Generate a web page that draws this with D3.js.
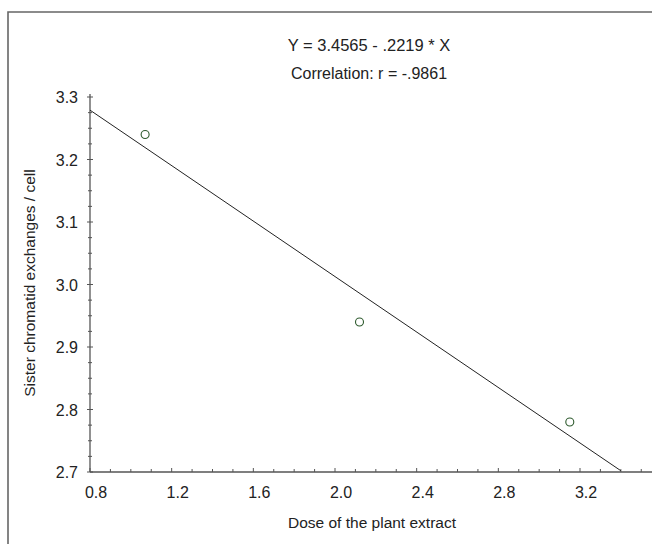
<!DOCTYPE html>
<html lang="en">
  <head>
    <meta charset="UTF-8" />
    <title>SCE vs dose</title>
    <style>
      html,
      body {
        margin: 0;
        overflow: hidden;
        background: #fff;
      }
      #chart {
        display: block;
      }
      svg text {
        font-family: "Liberation Sans", Arial, sans-serif;
        fill: #222;
      }
    </style>
  </head>
  <body>
    <svg width="652" height="544" id="chart"></svg>

    <script src="https://d3js.org/d3.v7.min.js"></script>
    <script>
      var doses = [1.07, 2.12, 3.15];
      var sce = [3.24, 2.94, 2.78];

      // fitted line Y = 3.4565 - .2219 * X
      var intercept = 3.4565;
      var slope = -0.2219;
      var fitX = [0.8, 3.4];

      var xTicks = [0.8, 1.2, 1.6, 2.0, 2.4, 2.8, 3.2];
      var yTicks = [2.7, 2.8, 2.9, 3.0, 3.1, 3.2, 3.3];

      var svg = d3.select("#chart");

      // x: 0.8 -> 90px, 3.2 -> 580px; y: 2.7 -> 472px, 3.3 -> 97px
      var x = d3.scaleLinear().domain([0.8, 3.2]).range([90, 580]);
      var y = d3.scaleLinear().domain([2.7, 3.3]).range([472, 97]);

      // outer frame: only its top and left edges are inside the picture
      svg
        .append("path")
        .attr("d", "M8,560V12H660")
        .attr("fill", "none")
        .attr("stroke", "#666")
        .attr("stroke-width", 1.6);

      // x axis line runs to the right edge
      svg
        .append("line")
        .attr("x1", x(0.8))
        .attr("x2", 652)
        .attr("y1", y(2.7))
        .attr("y2", y(2.7))
        .attr("stroke", "#555")
        .attr("stroke-width", 1.3);

      svg
        .append("line")
        .attr("x1", x(0.8))
        .attr("x2", x(0.8))
        .attr("y1", y(2.7))
        .attr("y2", y(3.3) - 3)
        .attr("stroke", "#555")
        .attr("stroke-width", 1.3);

      // minor ticks every 0.1 on x, 0.025 on y
      var xMinor = d3.range(0.8, 3.56, 0.1);
      svg
        .selectAll(".xt")
        .data(xMinor)
        .join("line")
        .attr("x1", function (d) { return x(d); })
        .attr("x2", function (d) { return x(d); })
        .attr("y1", y(2.7))
        .attr("y2", function (d, i) { return y(2.7) - (i % 4 == 0 ? 4 : 3); })
        .attr("stroke", "#555");

      var yMinor = d3.range(2.7, 3.31, 0.025);
      svg
        .selectAll(".yt")
        .data(yMinor)
        .join("line")
        .attr("x1", function (d, i) { return x(0.8) - (i % 4 == 0 ? 3 : 2); })
        .attr("x2", function (d, i) { return x(0.8) + (i % 4 == 0 ? 3 : 2); })
        .attr("y1", function (d) { return y(d); })
        .attr("y2", function (d) { return y(d); })
        .attr("stroke", "#555");

      svg
        .selectAll(".xl")
        .data(xTicks)
        .join("text")
        .attr("x", function (d) { return x(d) + 6; })
        .attr("y", 498)
        .attr("text-anchor", "middle")
        .attr("font-size", 16)
        .text(function (d) { return d.toFixed(1); });

      svg
        .selectAll(".yl")
        .data(yTicks)
        .join("text")
        .attr("x", 78)
        .attr("y", function (d) { return y(d) + 6; })
        .attr("text-anchor", "end")
        .attr("font-size", 16)
        .text(function (d) { return d.toFixed(1); });

      // regression line
      svg
        .append("line")
        .attr("x1", x(fitX[0]))
        .attr("y1", y(intercept + slope * fitX[0]))
        .attr("x2", x(fitX[1]))
        .attr("y2", y(intercept + slope * fitX[1]))
        .attr("stroke", "#222")
        .attr("stroke-width", 1);

      svg
        .selectAll("circle")
        .data(doses)
        .join("circle")
        .attr("cx", function (d) { return x(d); })
        .attr("cy", function (d, i) { return y(sce[i]); })
        .attr("r", 4)
        .attr("fill", "none")
        .attr("stroke", "#2d5a2d")
        .attr("stroke-width", 1.1);

      svg
        .append("text")
        .attr("x", 369)
        .attr("y", 51)
        .attr("text-anchor", "middle")
        .attr("font-size", 16.5)
        .text("Y = 3.4565 - .2219 * X");

      svg
        .append("text")
        .attr("x", 369)
        .attr("y", 79)
        .attr("text-anchor", "middle")
        .attr("font-size", 16)
        .text("Correlation: r = -.9861");

      svg
        .append("text")
        .attr("x", 372)
        .attr("y", 528)
        .attr("text-anchor", "middle")
        .attr("font-size", 15.5)
        .text("Dose of the plant extract");

      svg
        .append("text")
        .attr("transform", "translate(35,283) rotate(-90)")
        .attr("text-anchor", "middle")
        .attr("font-size", 15.5)
        .text("Sister chromatid exchanges / cell");
    </script>
  </body>
</html>
